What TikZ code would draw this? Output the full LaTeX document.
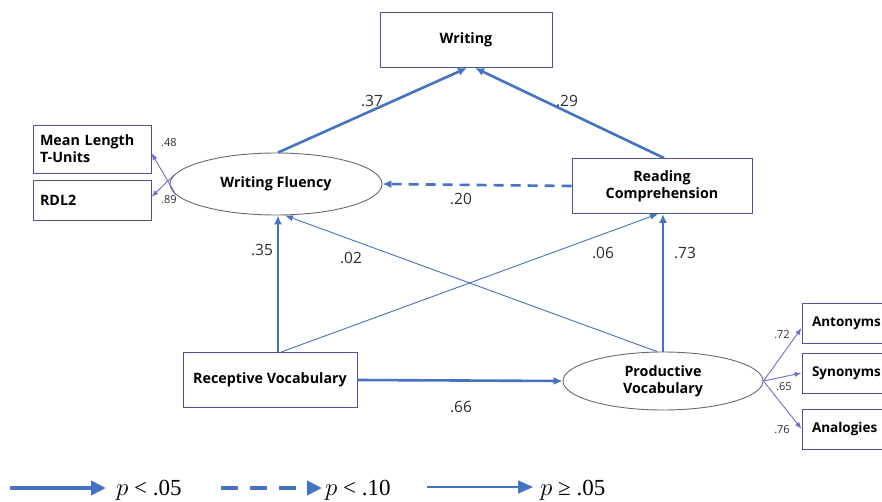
\documentclass[tikz,border=0pt]{standalone}
\usepackage{fontspec}
\setmainfont{Open Sans}
\newfontfamily\legendfont{Liberation Serif}
\usetikzlibrary{arrows.meta,shapes.geometric}
\definecolor{path_blue}{RGB}{68,114,196}
\definecolor{box_navy}{RGB}{80,80,160}
\definecolor{oval_gray}{RGB}{105,105,115}
\definecolor{ind_blue}{RGB}{110,110,205}
\definecolor{lab_gray}{RGB}{45,45,45}
\newcommand{\boxfont}{\fontsize{14.3}{17}\selectfont\bfseries}
\newcommand{\coef}{\fontsize{15.5}{17}\selectfont}
\newcommand{\smallcoef}{\fontsize{11}{13}\selectfont}

\begin{document}
\begin{tikzpicture}[x=1pt,y=-1pt,>={Latex[length=9pt,width=8pt]}]
    \tikzstyle{var}=[draw=box_navy, rectangle, line width=0.9pt, font=\boxfont, text=black, align=center]
    \tikzstyle{indicator}=[var, minimum height=40, text width=70, inner xsep=10, align=left, font=\fontsize{13.5}{16}\selectfont\bfseries]
    \tikzstyle{latent}=[draw=oval_gray, ellipse, line width=0.9pt, font=\boxfont, text=black, align=center, inner sep=0pt]
    \tikzstyle{sig}=[->, draw=path_blue, line width=2.6pt]
    \tikzstyle{trend}=[->, draw=path_blue, line width=2.6pt, dash pattern=on 10pt off 7pt]
    \tikzstyle{ns}=[-{Latex[length=8pt,width=6pt]}, draw=path_blue, line width=0.9pt]
    \tikzstyle{load}=[-{Latex[length=7pt,width=5pt]}, draw=ind_blue, line width=0.9pt]
    \tikzstyle{coef}=[font=\coef, text=lab_gray]
    \tikzstyle{lcoef}=[font=\smallcoef, text=lab_gray]

    \clip (0,0) rectangle (882,502);
    \fill[white] (0,0) rectangle (882,502);

    \node[var, minimum width=172, minimum height=55] (wr)  at (466,40)  {Writing};
    \node[var, minimum height=48, text width=104, inner xsep=7, align=left] (ml) at (92,149) {Mean Length\\T-Units};
    \node[var, minimum height=40, text width=104, inner xsep=7, align=left] (rdl) at (92,200) {RDL2};
    \node[latent, minimum width=212, minimum height=62] (wf) at (276,184) {Writing Fluency};
    \node[var, minimum width=180, minimum height=55] (rc)  at (662,186) {Reading\\Comprehension};
    \node[var, minimum width=174, minimum height=55] (rv)  at (270,380) {Receptive Vocabulary};
    \node[latent, minimum width=200, minimum height=58] (pv) at (663,381) {Productive\\Vocabulary};
    \node[indicator] (ant) at (847,323) {Antonyms};
    \node[indicator] (syn) at (847,373) {Synonyms};
    \node[indicator] (ana) at (847,429) {Analogies};

    \path
     ([xshift=2pt]wf.north)  edge[sig]   ([xshift=1pt]wr.south)
     ([xshift=2pt]rc.north)  edge[sig]   ([xshift=9pt]wr.south)
     (rc.west)               edge[trend] (wf.east)
     ([xshift=8pt]rv.north)  edge[sig]   ([xshift=2pt]wf.south)
     ([xshift=11pt]rv.north) edge[ns]    ([xshift=-4pt]rc.south)
     ([xshift=-6pt]pv.north) edge[ns]    ([xshift=9pt]wf.south)
     (pv.north)              edge[sig]   ([xshift=1pt]rc.south)
     (rv.east)               edge[sig]   (pv.west)
     (wf.186)                edge[load]  ([yshift=-4pt]ml.east)
     (wf.175)                edge[load]  ([yshift=3pt]rdl.east)
     (pv.east)               edge[load]  ([yshift=-5pt]ant.west)
     (pv.east)               edge[load]  (syn.west)
     (pv.east)               edge[load]  (ana.west)
     ;

    \node[coef] (c37) at (372,101) {.37};
    \node[coef] (c29) at (567,101) {.29};
    \node[coef] (c20) at (461,199) {.20};
    \node[coef] (c35) at (262,250) {.35};
    \node[coef] (c02) at (351,258) {.02};
    \node[coef] (c06) at (603,253) {.06};
    \node[coef] (c73) at (685,253) {.73};
    \node[coef] (c66) at (461,407) {.66};
    \node[lcoef] (c48) at (169,143) {.48};
    \node[lcoef] (c89) at (169,200) {.89};
    \node[lcoef] (c72) at (782,335) {.72};
    \node[lcoef] (c65) at (784,387) {.65};
    \node[lcoef] (c76) at (782,430) {.76};

    \coordinate (ka) at (10,488);  \coordinate (kb) at (106,488);
    \coordinate (kc) at (221,488); \coordinate (kd) at (322,488);
    \coordinate (ke) at (427,487); \coordinate (kf) at (533,487);
    \path
     (ka) edge[draw=path_blue, line width=3.6pt, -{Triangle[length=15pt,width=14pt]}] (kb)
     (kc) edge[draw=path_blue, line width=3.6pt, dash pattern=on 17pt off 12pt, -{Triangle[length=15pt,width=14pt]}] (kd)
     (ke) edge[draw=path_blue, line width=1.4pt, -{Triangle[length=15pt,width=13pt]}] (kf)
     ;
    \node[anchor=west, font=\legendfont\fontsize{23}{25}\selectfont, inner sep=0pt] (k1) at (116,490) {$p$ < .05};
    \node[anchor=west, font=\legendfont\fontsize{23}{25}\selectfont, inner sep=0pt] (k2) at (325,490) {$p$ < .10};
    \node[anchor=west, font=\legendfont\fontsize{23}{25}\selectfont, inner sep=0pt] (k3) at (540,490) {$p$ ≥ .05};
\end{tikzpicture}
\end{document}
